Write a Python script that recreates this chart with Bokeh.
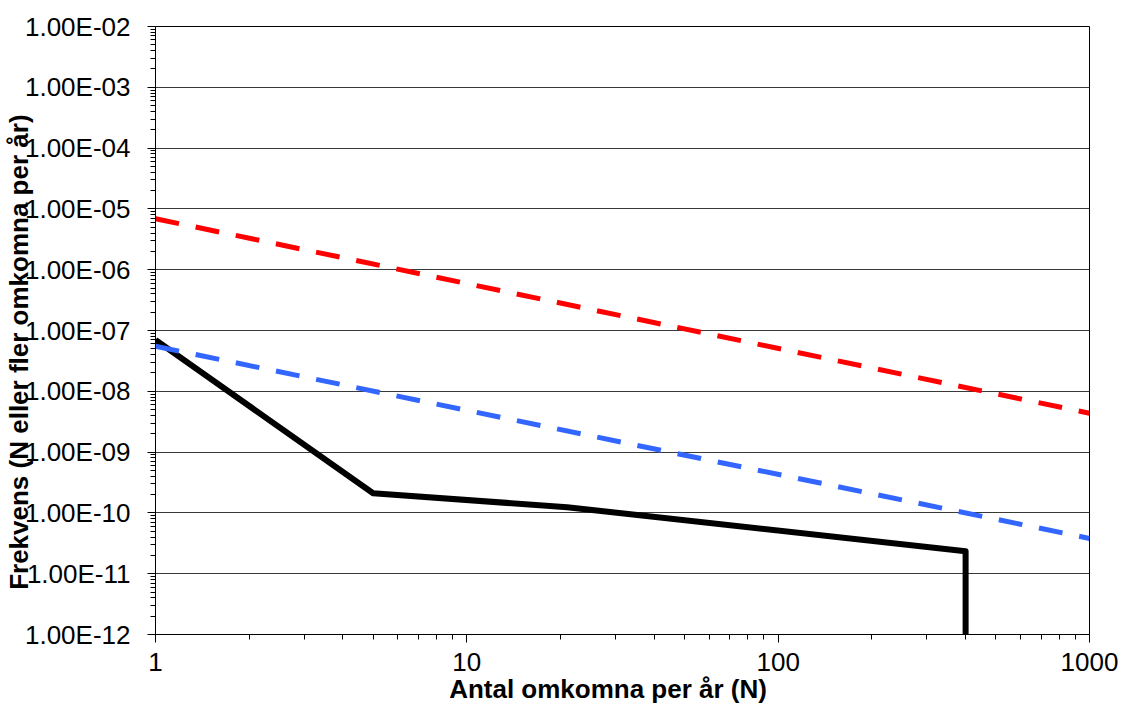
from bokeh.plotting import figure
from bokeh.models import FixedTicker, CustomJSTickFormatter, Range1d
from bokeh.embed import file_html
from bokeh.resources import INLINE

# ---- data ----
N_black = [1, 5, 21, 400, 400]
F_black = [7.0e-8, 2.1e-10, 1.24e-10, 2.34e-11, 1.0e-12]
N_red = [1, 1000]
F_red = [6.9e-6, 4.35e-9]
N_blue = [1, 1000]
F_blue = [5.5e-8, 3.8e-11]

x_ticks = [1, 10, 100, 1000]
y_ticks = [10.0 ** k for k in range(-12, -1)]
x_title = "Antal omkomna per år (N)"
y_title = "Frekvens (N eller fler omkomna per år)"

FONT = "Liberation Sans"

x_minor = [m * 10.0 ** k for k in range(0, 3) for m in range(2, 10)]
y_minor = [m * 10.0 ** k for k in range(-12, -2) for m in range(2, 10)]

p = figure(width=1121, height=709,
           x_axis_type="log", y_axis_type="log",
           x_range=Range1d(1, 1000), y_range=Range1d(1e-12, 1e-2),
           output_backend="svg", toolbar_location=None,
           min_border_left=155, min_border_right=32,
           min_border_top=26, min_border_bottom=75)

p.background_fill_color = "white"
p.border_fill_color = "white"
p.outline_line_color = "#000000"
p.outline_line_width = 1

# grid
p.xgrid.grid_line_color = None
p.ygrid.grid_line_color = "#3a3a3a"
p.ygrid.grid_line_width = 1.2
p.ygrid.ticker = FixedTicker(ticks=y_ticks)

# x axis
xa = p.xaxis[0]
xa.ticker = FixedTicker(ticks=x_ticks, minor_ticks=x_minor)
xa.formatter = CustomJSTickFormatter(code="return String(Math.round(tick));")
xa.major_label_text_font = FONT
xa.major_label_text_font_size = "26px"
xa.major_label_text_color = "#000000"
xa.major_label_standoff = 10
xa.major_tick_in = 0
xa.major_tick_out = 8
xa.minor_tick_in = 0
xa.minor_tick_out = 5
xa.axis_line_color = "#000000"
xa.major_tick_line_color = "#000000"
xa.minor_tick_line_color = "#000000"
xa.axis_label = x_title + "\u00a0" * 4
xa.axis_label_text_font = FONT
xa.axis_label_text_font_size = "26px"
xa.axis_label_text_font_style = "bold"
xa.axis_label_text_color = "#000000"
xa.axis_label_standoff = 0

# y axis
ya = p.yaxis[0]
ya.ticker = FixedTicker(ticks=y_ticks, minor_ticks=y_minor)
ya.formatter = CustomJSTickFormatter(code="""
const e = Math.round(Math.log10(tick));
const m = tick / Math.pow(10, e);
const a = Math.abs(e);
return m.toFixed(2) + 'E' + (e < 0 ? '-' : '+') + (a < 10 ? '0' : '') + a;
""")
ya.major_label_text_font = FONT
ya.major_label_text_font_size = "26px"
ya.major_label_text_color = "#000000"
ya.major_label_standoff = 17
ya.major_tick_in = 0
ya.major_tick_out = 8
ya.minor_tick_in = 0
ya.minor_tick_out = 5
ya.axis_line_color = "#000000"
ya.major_tick_line_color = "#000000"
ya.minor_tick_line_color = "#000000"
ya.axis_label = y_title + "\u00a0" * 6
ya.axis_label_text_font = FONT
ya.axis_label_text_font_size = "26px"
ya.axis_label_text_font_style = "bold"
ya.axis_label_text_color = "#000000"
ya.axis_label_standoff = -12

# series
p.line(N_black, F_black, line_color="#000000", line_width=6,
       line_join="round", line_cap="butt")
p.line(N_blue, F_blue, line_color="#3366FF", line_width=5,
       line_dash="24 17", line_cap="butt")
p.line(N_red, F_red, line_color="#FF0000", line_width=5,
       line_dash="24 17", line_cap="butt")

open("out.html", "w").write(file_html(p, INLINE))
